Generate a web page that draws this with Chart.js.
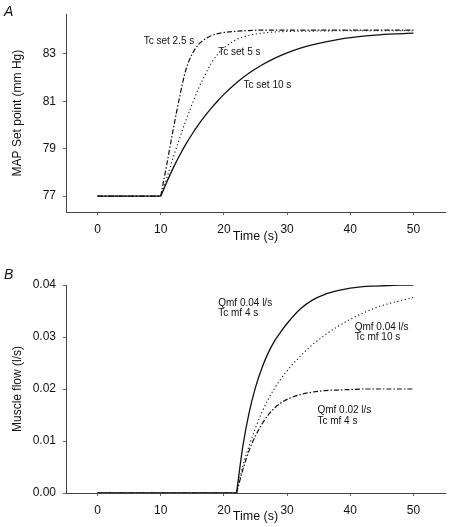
<!DOCTYPE html>
<html>
<head>
<meta charset="utf-8">
<script src="https://cdn.jsdelivr.net/npm/chart.js@4.4.1/dist/chart.umd.min.js"></script>
<style>
  body { margin: 0; background: #fff; }
  #wrap { position: relative; width: 450px; height: 527px; }
  canvas { position: absolute; left: 0; }
</style>
</head>
<body>
<div id="wrap">
  <canvas id="chartA" width="450" height="260" style="top:0"></canvas>
  <canvas id="chartB" width="450" height="267" style="top:260px"></canvas>
</div>
<script>
  // panel A : MAP set point
  const timeA = [0, 10, 11, 12, 13, 14, 15, 16, 17, 18, 19, 20, 22, 24, 26, 28, 30, 32, 35, 38, 41, 44, 47, 50];
  const tcSet10 = [77, 77, 77.62, 78.2, 78.72, 79.2, 79.63, 80.02, 80.38, 80.71, 81.01, 81.29, 81.78, 82.19, 82.53, 82.81, 83.04, 83.23, 83.44, 83.6, 83.71, 83.79, 83.84, 83.87];
  const tcSet5 = [77, 77, 77.8, 78.65, 79.45, 80.2, 80.9, 81.55, 82.1, 82.6, 82.98, 83.25, 83.6, 83.78, 83.87, 83.92, 83.94, 83.95, 83.96, 83.97, 83.97, 83.97, 83.97, 83.97];
  const tcSet25 = [77, 77, 78.4, 79.85, 81.2, 82.35, 83.0, 83.4, 83.62, 83.76, 83.85, 83.9, 83.95, 83.98, 84.0, 84.0, 84.0, 84.0, 84.0, 84.0, 84.0, 84.0, 84.0, 84.0];
  const yTicksA = [77, 79, 81, 83];

  // panel B : muscle flow
  const timeB = [0, 22, 23, 24, 25, 26, 27, 28, 29, 30, 32, 34, 36, 38, 40, 42, 44, 46, 48, 50];
  const qmf04tc4 = [0, 0, 0.009, 0.0155, 0.0203, 0.024, 0.0269, 0.0292, 0.031, 0.0326, 0.0353, 0.0371, 0.0382, 0.0389, 0.0394, 0.0397, 0.0398, 0.0399, 0.04, 0.04];
  const qmf04tc10 = [0, 0, 0.0052, 0.0091, 0.0125, 0.0155, 0.018, 0.0201, 0.0219, 0.0235, 0.0262, 0.0285, 0.0304, 0.032, 0.0334, 0.0346, 0.0356, 0.0364, 0.037, 0.0376];
  const qmf02tc4 = [0, 0, 0.0045, 0.0082, 0.011, 0.0132, 0.015, 0.0163, 0.0173, 0.018, 0.0189, 0.0194, 0.0197, 0.0198, 0.0199, 0.02, 0.02, 0.02, 0.02, 0.02];
  const yTicksB = [0, 0.01, 0.02, 0.03, 0.04];

  const xTicks = [0, 10, 20, 30, 40, 50];

  // curve labels (data coords)
  const labelsA = [
    { text: ['Tc set 2.5 s'], x: 7.3, y: 83.55 },
    { text: ['Tc set 5 s'], x: 19.1, y: 83.06 },
    { text: ['Tc set 10 s'], x: 23.1, y: 81.66 }
  ];
  const labelsB = [
    { text: ['Qmf 0.04 l/s', 'Tc mf 4 s'], x: 19.1, y: 0.0365 },
    { text: ['Qmf 0.04 l/s', 'Tc mf 10 s'], x: 40.7, y: 0.0319 },
    { text: ['Qmf 0.02 l/s', 'Tc mf 4 s'], x: 34.8, y: 0.0159 }
  ];

  Chart.defaults.font.family = 'Liberation Sans, Arial, sans-serif';
  Chart.defaults.color = '#111';

  function pts(xs, ys) {
    return xs.map((x, i) => ({ x: x, y: ys[i] }));
  }

  // flat part and rising part as two datasets so the corner stays sharp
  function series(xs, ys, dash, width) {
    const all = pts(xs, ys);
    const base = {
      borderColor: '#111',
      borderWidth: width,
      borderDash: dash,
      pointRadius: 0,
      fill: false,
      cubicInterpolationMode: 'monotone'
    };
    return [
      Object.assign({}, base, { data: all.slice(0, 2) }),
      Object.assign({}, base, { data: all.slice(1) })
    ];
  }

  // draws the curve labels and the panel letter
  function textPlugin(labels, letter, letterY) {
    return {
      id: 'txt',
      afterDatasetsDraw(chart) {
        const ctx = chart.ctx;
        const xs = chart.scales.x, ys = chart.scales.y;
        ctx.save();
        ctx.fillStyle = '#111';
        ctx.font = '10px Liberation Sans, Arial, sans-serif';
        ctx.textAlign = 'left';
        ctx.textBaseline = 'middle';
        for (const l of labels) {
          const px = xs.getPixelForValue(l.x);
          const py = ys.getPixelForValue(l.y);
          l.text.forEach((t, i) => ctx.fillText(t, px, py + i * 10.5));
        }
        ctx.font = 'italic 14px Liberation Sans, Arial, sans-serif';
        ctx.fillText(letter, 4, letterY);
        ctx.restore();
      }
    };
  }

  function makeOptions(yMin, yMax, yTicks, yTitle, fmt, xHeight, xTitlePad, padTop) {
    return {
      responsive: false,
      animation: false,
      layout: { padding: { top: padTop, right: 5, left: 0, bottom: 0 } },
      plugins: { legend: { display: false }, tooltip: { enabled: false } },
      scales: {
        x: {
          type: 'linear',
          min: -5,
          max: 55,
          afterBuildTicks: s => { s.ticks = xTicks.map(v => ({ value: v })); },
          afterFit: s => { s.height = xHeight; },
          grid: { drawOnChartArea: false, tickLength: 3, color: '#666' },
          border: { color: '#444', width: 1 },
          ticks: { padding: 7, font: { size: 12 }, maxRotation: 0 },
          title: { display: true, text: 'Time (s)', font: { size: 12.5 }, padding: { top: 0, bottom: xTitlePad } }
        },
        y: {
          min: yMin,
          max: yMax,
          afterBuildTicks: s => { s.ticks = yTicks.map(v => ({ value: v })); },
          afterFit: s => { s.width = 66; },
          grid: { drawOnChartArea: false, tickLength: 3, color: '#666' },
          border: { color: '#444', width: 1 },
          ticks: { padding: 7, font: { size: 12 }, callback: fmt },
          title: { display: true, text: yTitle, font: { size: 12 }, padding: { top: 10, bottom: 0 } }
        }
      }
    };
  }

  new Chart(document.getElementById('chartA'), {
    type: 'line',
    data: {
      datasets: [].concat(
        series(timeA, tcSet10, [], 1.3),
        series(timeA, tcSet5, [1.2, 2.6], 1.1),
        series(timeA, tcSet25, [5, 2, 1.5, 2], 1.2)
      )
    },
    options: makeOptions(76.33, 84.67, yTicksA, 'MAP Set point (mm Hg)', v => String(v), 48, 15.8, 5),
    plugins: [textPlugin(labelsA, 'A', 12)]
  });

  new Chart(document.getElementById('chartB'), {
    type: 'line',
    data: {
      datasets: [].concat(
        series(timeB, qmf04tc4, [], 1.3),
        series(timeB, qmf04tc10, [1.2, 2.6], 1.1),
        series(timeB, qmf02tc4, [5, 2, 1.5, 2], 1.2)
      )
    },
    options: makeOptions(0, 0.04, yTicksB, 'Muscle flow (l/s)', v => v.toFixed(2), 34, 2.8, 25),
    plugins: [textPlugin(labelsB, 'B', 15)]
  });
</script>
</body>
</html>
